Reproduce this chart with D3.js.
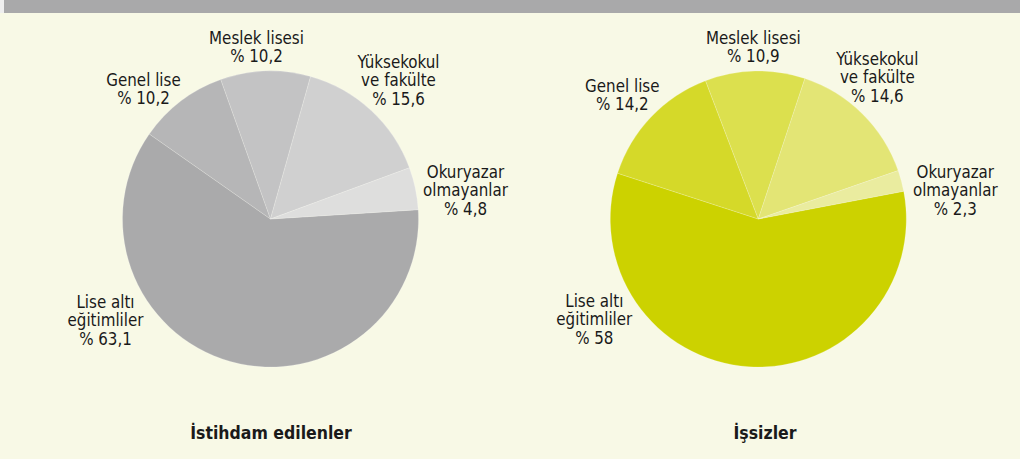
<!DOCTYPE html>
<html>
<head>
<meta charset="utf-8">
<script src="https://cdn.jsdelivr.net/npm/d3@7"></script>
<style>
  html, body { margin: 0; padding: 0; background: #f8f9e6; }
  svg { display: block; }
  text { font-family: 'DejaVu Sans Condensed', 'DejaVu Sans', sans-serif; fill: #1a1a1a; }
</style>
</head>
<body>
<div id="app"></div>
<script>
// categories (order of slices, clockwise)
const categories = [
    ['Lise altı', 'eğitimliler'],
    ['Genel lise'],
    ['Meslek lisesi'],
    ['Yüksekokul', 've fakülte'],
    ['Okuryazar', 'olmayanlar']
]

const employed = [63.1, 10.2, 10.2, 15.6, 4.8]
const unemployed = [58, 14.2, 10.9, 14.6, 2.3]

const titles = ['İstihdam edilenler', 'İşsizler']

const grays = ['#aaaaab', '#b6b6b7', '#c3c3c4', '#d0d0d0', '#dededd']
const greens = ['#ccd200', '#d5d929', '#dce04e', '#e3e575', '#eaec9f']

const width = 1020
const height = 459
const radius = 148

// label anchors relative to pie centre (layout only)
const labelOffsets = [
    [[-165, 89], [-127, -133], [-14, -175], [128, -151], [195, -41]],
    [[-164, 88], [-136, -127], [-5, -175], [119, -154], [197, -41]]
]

const pies = [
    { values: employed, colors: grays, cx: 270.5, start: 86.4, title: titles[0], tx: 271 },
    { values: unemployed, colors: greens, cx: 758.3, start: 79.2, title: titles[1], tx: 765 }
]

const fmt = v => '% ' + String(v).replace('.', ',')

const svg = d3.create('svg')
    .attr('viewBox', [0, 0, width, height])
    .attr('width', width)
    .attr('height', height)

svg.append('rect')
    .attr('width', width)
    .attr('height', height)
    .attr('fill', '#f8f9e6')

svg.append('rect')
    .attr('x', 0)
    .attr('width', 4)
    .attr('height', 13)
    .attr('fill', '#efefef')

svg.append('rect')
    .attr('x', 4)
    .attr('width', width - 4)
    .attr('height', 13)
    .attr('fill', '#a9a9aa')

const arc = d3.arc().innerRadius(0).outerRadius(radius)

pies.forEach((p, pi) => {
    const cy = 219
    const pie = d3.pie()
        .sort(null)
        .startAngle(p.start * Math.PI / 180)
        .endAngle(p.start * Math.PI / 180 + 2 * Math.PI)

    const g = svg.append('g')
        .attr('transform', `translate(${p.cx}, ${cy})`)

    g.selectAll('path')
        .data(pie(p.values))
        .join('path')
        .attr('d', arc)
        .attr('fill', (d, i) => p.colors[i])
        .attr('stroke', 'rgba(255,255,255,0.3)')
        .attr('stroke-width', 0.6)

    const labels = g.selectAll('text.lbl')
        .data(p.values)
        .join('text')
        .attr('class', 'lbl')
        .attr('text-anchor', 'middle')
        .attr('font-size', 16.8)
        .attr('x', (d, i) => labelOffsets[pi][i][0])
        .attr('y', (d, i) => labelOffsets[pi][i][1])

    labels.each(function(d, i) {
        const lines = categories[i].concat([fmt(d)])
        const [ox] = labelOffsets[pi][i]
        d3.select(this)
            .selectAll('tspan')
            .data(lines)
            .join('tspan')
            .attr('x', ox)
            .attr('dy', (l, j) => j === 0 ? 0 : 18.3)
            .text(l => l)
    })

    svg.append('text')
        .attr('x', p.tx)
        .attr('y', 439)
        .attr('text-anchor', 'middle')
        .attr('font-size', 17.5)
        .attr('font-weight', 'bold')
        .text(p.title)
})

d3.select('#app').append(() => svg.node())
</script>
</body>
</html>
